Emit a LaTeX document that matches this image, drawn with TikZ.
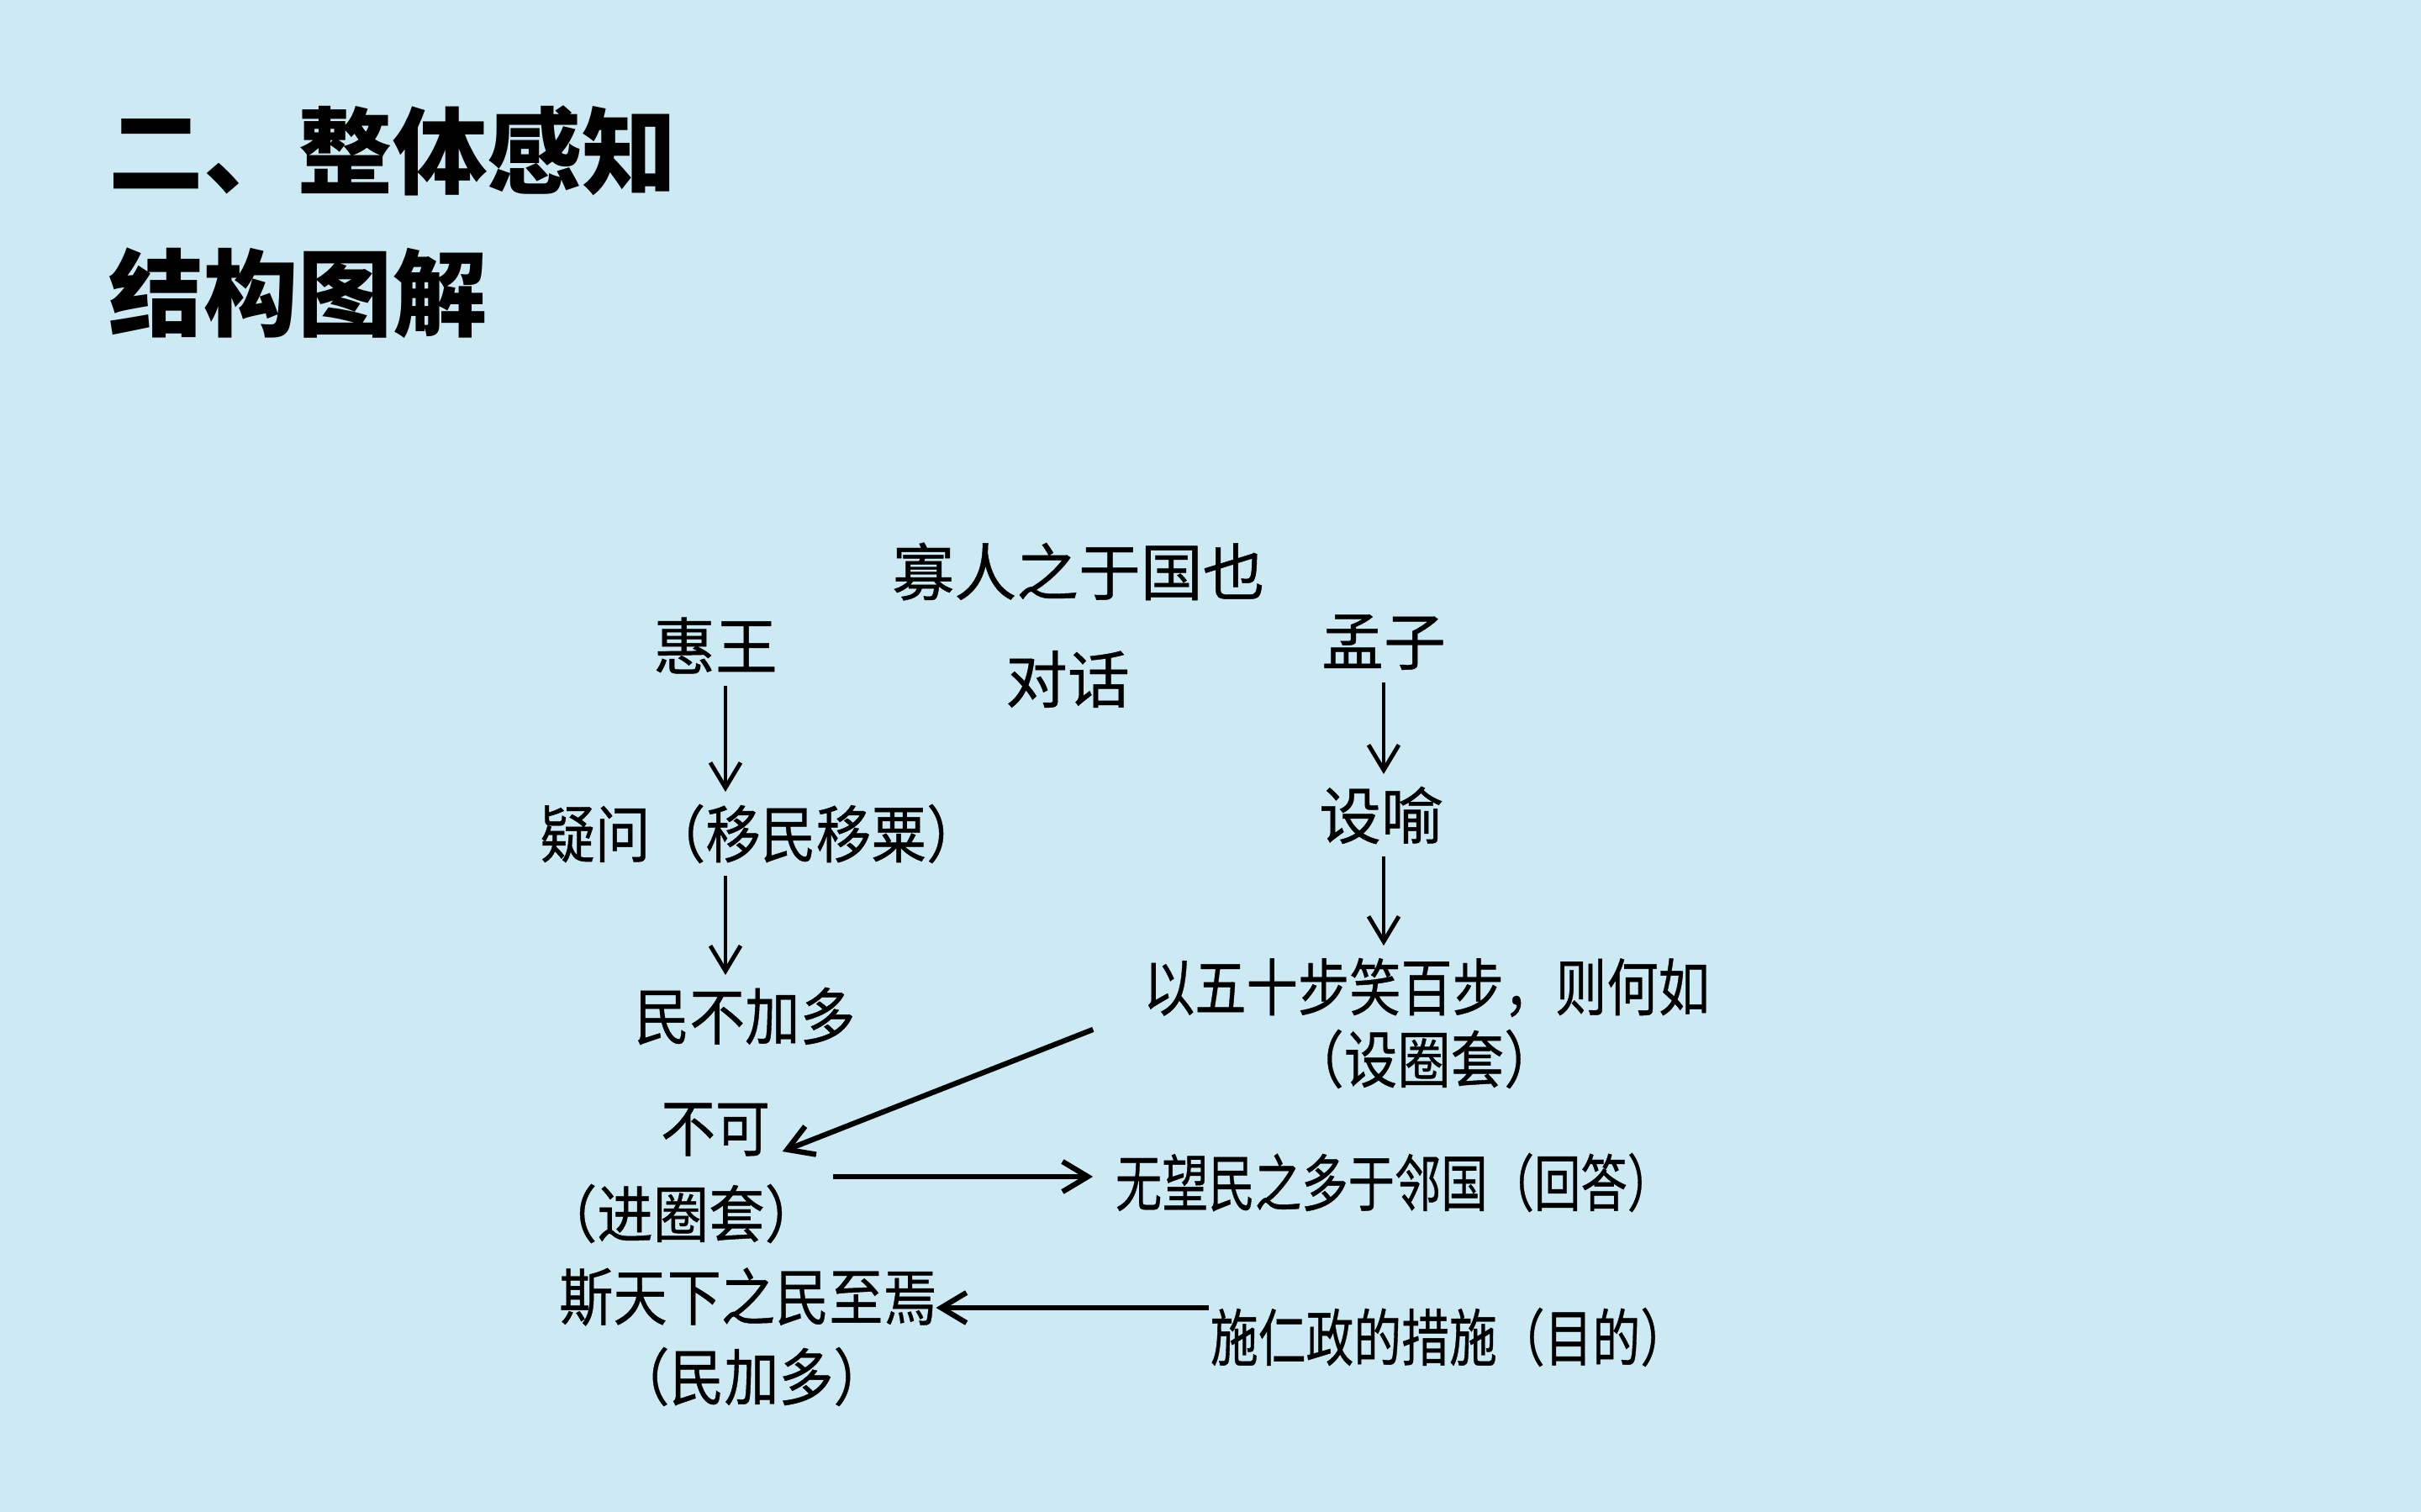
\documentclass[tikz,border=0pt]{standalone}
\usepackage{fontspec}
\usepackage{graphicx}
\newfontfamily\cjk{Noto Sans CJK SC}
\newfontfamily\cjkbody{Noto Sans CJK SC}[FakeBold=0.6]
\usetikzlibrary{arrows.meta}
\definecolor{bgblue}{RGB}{204,233,244}
\newcommand{\sq}[2]{\scalebox{#1}[1]{#2}}

\begin{document}
\begin{tikzpicture}[
  title/.style={font=\cjk\bfseries\fontsize{32}{38}\selectfont,anchor=west,inner sep=0pt},
  txt/.style={font=\cjkbody\fontsize{21}{25}\selectfont,inner sep=4pt},
  arr/.style={-{Straight Barb[length=3mm,width=3.6mm]},line width=1.4pt},
  arrb/.style={arr,line width=1.8pt},
]

% Background
\fill[bgblue] (0,0) rectangle (28.8,-17.99);

% Title
\node[title] (t1) at (1.29,-1.79) {二、整体感知};
\node[title] (t2) at (1.29,-3.49) {结构图解};

% Top row
\node[txt] (top) at (12.83,-6.80) {寡人之于国也};
\node[txt] (hw) at (8.51,-7.68) {惠王};
\node[txt] (dh) at (12.70,-8.08) {对话};
\node[txt] (mz) at (16.46,-7.64) {孟子};

% Left column
\node[txt] (yw) at (9.05,-9.92) {\sq{0.89}{疑问（移民移粟）}};
\node[txt] (mb) at (8.86,-12.09) {\sq{0.89}{民不加多}};
\node[txt] (bk) at (8.51,-13.44) {\sq{0.88}{不可}};
\node[txt] (jqt) at (8.10,-14.44) {\sq{0.9}{（进圈套）}};
\node[txt] (skx) at (8.90,-15.43) {\sq{0.87}{斯天下之民至焉}};
\node[txt] (mjd) at (8.94,-16.38) {\sq{0.88}{（民加多）}};

% Right column
\node[txt] (sy) at (16.43,-9.70) {设喻};
\node[txt] (wsb) at (16.97,-11.75) {\sq{0.83}{以五十步笑百步，则何如}};
\node[txt] (sqt) at (16.94,-12.60) {\sq{0.86}{（设圈套）}};
\node[txt] (wwm) at (16.59,-14.07) {\sq{0.75}{无望民之多于邻国（回答）}};
\node[txt] (srz) at (17.24,-15.91) {\sq{0.77}{施仁政的措施（目的）}};

% Arrows
\draw[arr] ([xshift=1.2mm]hw.south) -- ([xshift=1.2mm]hw.south |- yw.north);
\draw[arr] ([xshift=1.2mm]hw.south |- yw.south) -- ([xshift=1.2mm]hw.south |- mb.north);
\draw[arr] (mz.south) -- (mz.south |- sy.north);
\draw[arr] (mz.south |- sy.south) -- (mz.south |- wsb.north);
\draw[arrb] ([xshift=-4.5mm]wsb.south west) -- ([yshift=2mm]bk.south east);
\draw[arrb] ([yshift=0.7mm]jqt.north east |- wwm.west) -- ([xshift=-1.2mm,yshift=0.7mm]wwm.west);
\draw[arrb] ([xshift=1.3mm,yshift=-1.3mm]srz.north west |- skx.east) -- ([xshift=-1.6mm,yshift=-1.3mm]skx.east);

\end{tikzpicture}
\end{document}
